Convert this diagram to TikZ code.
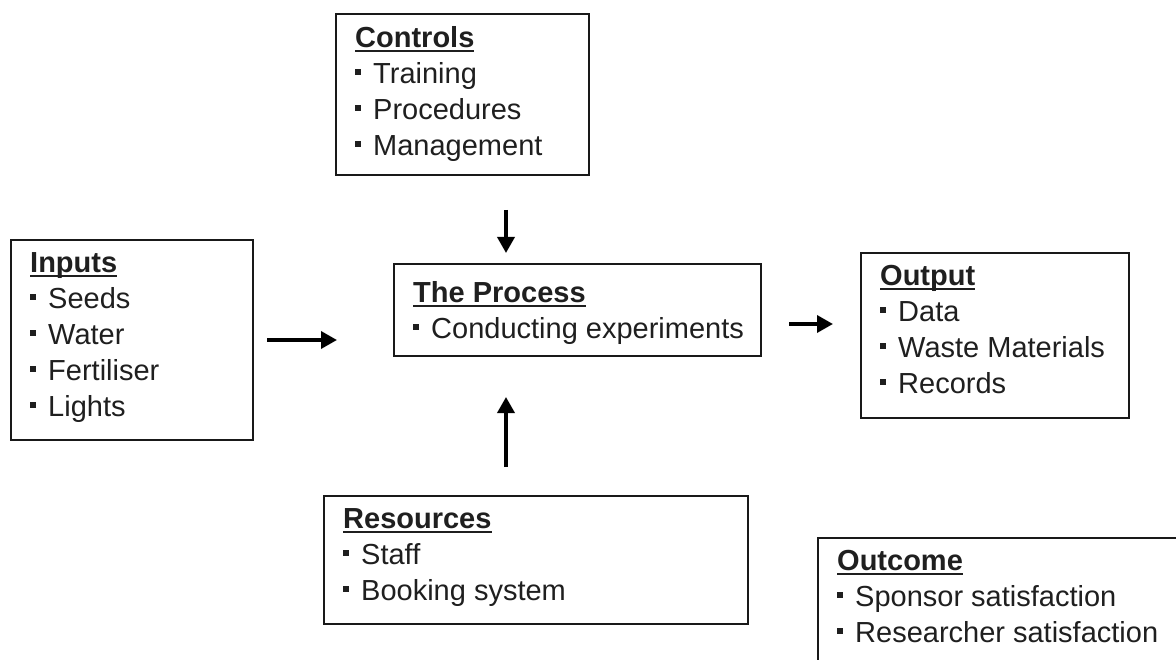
\documentclass[tikz,border=0pt]{standalone}
\usepackage{fontspec}
\setmainfont{Liberation Sans}
\usetikzlibrary{arrows.meta}

% bold heading with a thick underline
\newcommand\hd[1]{\setbox0\hbox{\bfseries #1}\rlap{\rule[-5pt]{\wd0}{2.5pt}}\box0}
% small square bullet
\newcommand\bul{\rule[8pt]{6pt}{6pt}\hspace{12pt}}

\begin{document}
\begin{tikzpicture}[x=1pt,y=-1pt,
  box/.style={draw=black!90, line width=2pt, anchor=north west, inner sep=0pt},
  txt/.style={anchor=north west, inner sep=0pt, align=left,
              font=\fontsize{29}{36}\selectfont, text=black!88},
  arr/.style={line width=3.5pt, -{Triangle[length=16pt,width=17pt]}}]

\clip (0,0) rectangle (1176,660);
\fill[white] (0,0) rectangle (1176,660);

% boxes
\node[box, minimum width=253pt, minimum height=161pt] (controls)  at (335,13)  {};
\node[box, minimum width=242pt, minimum height=200pt] (inputs)    at (10,239)  {};
\node[box, minimum width=367pt, minimum height=92pt]  (process)   at (393,263) {};
\node[box, minimum width=268pt, minimum height=165pt] (output)    at (860,252) {};
\node[box, minimum width=424pt, minimum height=128pt] (resources) at (323,495) {};
\node[box, minimum width=420pt, minimum height=160pt] (outcome)   at (817,537) {};

% box contents
\node[txt] (controlsT) at ([xshift=20pt,yshift=-13pt]controls.north west)
  {\hd{Controls}\\ \bul Training\\ \bul Procedures\\ \bul Management};
\node[txt] (inputsT) at ([xshift=20pt,yshift=-13pt]inputs.north west)
  {\hd{Inputs}\\ \bul Seeds\\ \bul Water\\ \bul Fertiliser\\ \bul Lights};
\node[txt] (processT) at ([xshift=20pt,yshift=-18pt]process.north west)
  {\hd{The Process}\\ \bul Conducting experiments};
\node[txt] (outputT) at ([xshift=20pt,yshift=-13pt]output.north west)
  {\hd{Output}\\ \bul Data\\ \bul Waste Materials\\ \bul Records};
\node[txt] (resourcesT) at ([xshift=20pt,yshift=-13pt]resources.north west)
  {\hd{Resources}\\ \bul Staff\\ \bul Booking system};
\node[txt] (outcomeT) at ([xshift=20pt,yshift=-13pt]outcome.north west)
  {\hd{Outcome}\\ \bul Sponsor satisfaction\\ \bul Researcher satisfaction};

% arrows
\coordinate (vx) at (506,0);
\coordinate (hy) at (0,324);
\draw[arr, shorten <=34pt, shorten >=10pt] (controls.south -| vx) -- (process.north -| vx);
\draw[arr, shorten <=28pt, shorten >=40pt] (resources.north -| vx) -- (process.south -| vx);
\draw[arr, shorten <=13pt, shorten >=56pt] (inputs.east) -- (inputs.east -| process.west);
\draw[arr, shorten <=27pt, shorten >=27pt] (process.east |- hy) -- (output.west |- hy);
\end{tikzpicture}
\end{document}
